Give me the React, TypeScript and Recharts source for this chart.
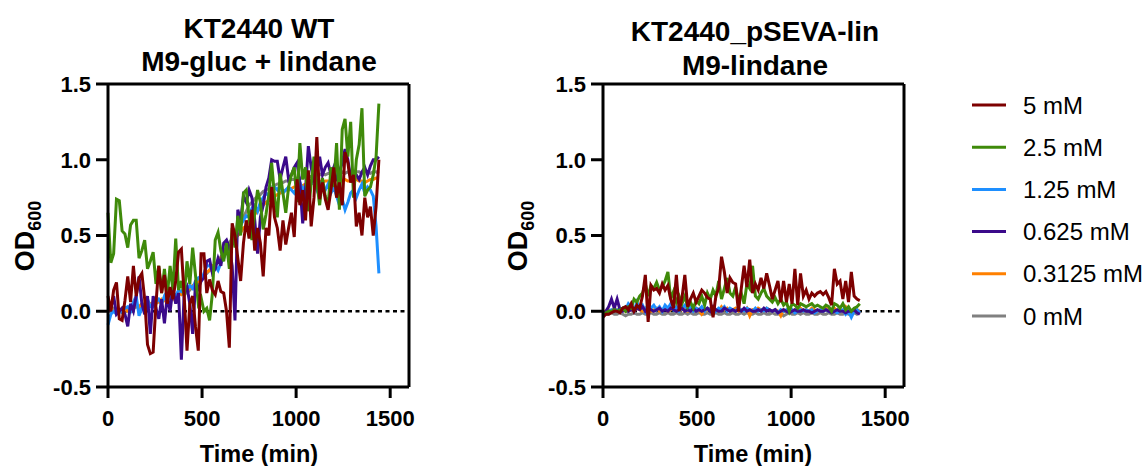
import { Line, LineChart, ReferenceLine, XAxis, YAxis } from "recharts";

// sampling times (min)
const leftTime = [
  0, 15, 30, 45, 60, 75, 90, 105, 120, 135,
  150, 165, 180, 195, 210, 225, 240, 255, 270, 285,
  300, 315, 330, 345, 360, 375, 390, 405, 420, 435,
  450, 465, 480, 495, 510, 525, 540, 555, 570, 585,
  600, 615, 630, 645, 660, 675, 690, 705, 720, 735,
  750, 765, 780, 795, 810, 825, 840, 855, 870, 885,
  900, 915, 930, 945, 960, 975, 990, 1005, 1020, 1035,
  1050, 1065, 1080, 1095, 1110, 1125, 1140, 1155, 1170, 1185,
  1200, 1215, 1230, 1245, 1260, 1275, 1290, 1305, 1320, 1335,
  1350, 1365, 1380, 1395, 1410, 1425, 1440,
];

const rightTime = [
  0, 15, 30, 45, 60, 75, 90, 105, 120, 135,
  150, 165, 180, 195, 210, 225, 240, 255, 270, 285,
  300, 315, 330, 345, 360, 375, 390, 405, 420, 435,
  450, 465, 480, 495, 510, 525, 540, 555, 570, 585,
  600, 615, 630, 645, 660, 675, 690, 705, 720, 735,
  750, 765, 780, 795, 810, 825, 840, 855, 870, 885,
  900, 915, 930, 945, 960, 975, 990, 1005, 1020, 1035,
  1050, 1065, 1080, 1095, 1110, 1125, 1140, 1155, 1170, 1185,
  1200, 1215, 1230, 1245, 1260, 1275, 1290, 1305, 1320, 1335,
  1350, 1365,
];

// KT2440 WT, M9-gluc + lindane
const leftMM5 = [
  0.1, 0.0, 0.14, 0.19, -0.05, -0.06, 0.07, 0.23, 0.06, 0.3,
  0.1, 0.22, 0.25, 0.08, -0.22, -0.28, -0.27, 0.05, 0.3, 0.12,
  0.24, 0.05, 0.16, 0.08, 0.2, 0.39, 0.41, 0.1, -0.26, 0.05,
  0.1, -0.1, -0.26, 0.38, 0.38, 0.12, 0.21, 0.14, 0.11, 0.2,
  0.13, 0.12, 0.0, -0.24, 0.58, 0.5, 0.35, 0.2, 0.45, 0.6,
  0.48, 0.67, 0.4, 0.55, 0.45, 0.23, 0.55, 0.5, 0.82, 0.62,
  0.55, 0.4, 0.6, 0.44, 0.55, 0.65, 0.49, 0.87, 0.7, 0.8,
  0.6, 0.93, 0.56, 0.75, 1.15, 0.74, 0.85, 0.74, 0.67, 0.8,
  0.95, 0.75, 0.85, 0.7, 1.05, 0.98, 0.85, 0.9, 0.56, 0.65,
  0.5, 0.75, 0.62, 0.69, 0.5, 0.69, 1.0,
];
const leftMM2_5 = [
  0.65, 0.32, 0.38, 0.74, 0.73, 0.53, 0.51, 0.42, 0.57, 0.6,
  0.6, 0.35, 0.4, 0.47, 0.28, 0.33, 0.39, 0.18, 0.3, 0.12,
  0.28, 0.1, 0.3, 0.14, 0.48, 0.14, 0.2, 0.1, 0.33, 0.18,
  0.42, 0.24, 0.05, 0.09, 0.0, 0.02, -0.06, 0.12, 0.47, 0.52,
  0.4, 0.33, 0.45, 0.28, 0.55, 0.42, 0.63, 0.5, 0.78, 0.8,
  0.62, 0.47, 0.65, 0.8, 0.72, 0.54, 0.64, 0.77, 0.98, 0.76,
  0.62, 0.91, 0.78, 0.65, 0.82, 0.9, 0.95, 0.72, 1.11, 0.87,
  0.95, 0.66, 0.84, 1.02, 0.85, 0.7, 0.88, 0.76, 0.69, 0.95,
  0.82, 1.11, 0.67, 1.2, 1.27, 1.02, 1.25, 0.75, 1.0, 1.1,
  1.34, 0.76, 0.8, 0.82, 0.9, 1.02, 1.37,
];
const leftMM1_25 = [
  -0.09, -0.02, 0.0, -0.02, 0.0, -0.01, 0.02, 0.03, 0.0, 0.06,
  0.1, -0.03, 0.02, 0.05, 0.08, 0.03, 0.03, 0.06, 0.08, 0.05,
  0.1, 0.06, 0.1, 0.12, 0.1, 0.14, 0.13, 0.15, 0.14, 0.17,
  0.15, 0.2, 0.22, 0.2, 0.25, 0.3, 0.3, 0.28, 0.3, 0.27,
  0.32, 0.35, 0.4, 0.43, 0.45, 0.5, 0.55, 0.57, 0.6, 0.63,
  0.62, 0.68, 0.7, 0.66, 0.72, 0.75, 0.78, 0.76, 0.8, 0.82,
  0.8, 0.83, 0.78, 0.8, 0.82, 0.8, 0.78, 0.82, 0.85, 0.8,
  0.83, 0.82, 0.86, 0.84, 0.8, 0.85, 0.82, 0.8, 0.84, 0.78,
  0.82, 0.76, 0.7, 0.74, 0.67, 0.72, 0.78, 0.8, 0.75, 0.8,
  0.84, 0.78, 0.82, 0.8, 0.76, 0.56, 0.25,
];
const leftMM0_625 = [
  0.0, 0.02, 0.1, -0.02, 0.0, 0.02, -0.02, -0.1, 0.05, 0.0,
  0.1, 0.23, 0.05, -0.02, 0.1, -0.15, 0.1, 0.02, -0.05, 0.08,
  -0.08, 0.1, 0.0, 0.15, 0.05, 0.12, -0.32, 0.12, 0.16, 0.05,
  -0.15, 0.18, 0.15, 0.2, 0.22, 0.33, 0.34, 0.25, 0.28, 0.35,
  0.3, 0.45, 0.47, 0.42, 0.3, -0.06, 0.67, 0.6, 0.76, 0.72,
  0.8, 0.75, 0.6, 0.38, 0.62, 0.7, 0.82, 0.88, 1.0, 0.99,
  0.99, 0.87, 0.95, 1.02, 0.87, 0.9, 0.95, 0.98, 0.85, 0.58,
  0.8, 1.09, 0.95, 0.85, 0.92, 1.02, 0.9, 0.95, 0.98, 0.9,
  0.95, 0.86, 0.92, 0.98, 1.07, 1.0, 0.88, 0.92, 0.9, 0.87,
  0.92, 0.95, 0.9, 0.96, 1.0, 1.0, 1.02,
];
const leftMM0_3125 = [
  0.03, 0.02, 0.0, 0.01, 0.0, 0.02, 0.01, 0.0, 0.03, 0.02,
  0.04, 0.03, 0.05, 0.04, 0.06, 0.05, 0.04, 0.07, 0.06, 0.08,
  0.07, 0.09, 0.1, 0.08, 0.11, 0.12, 0.11, 0.13, 0.14, 0.15,
  0.17, 0.18, 0.2, 0.22, 0.24, 0.26, 0.27, 0.3, 0.31, 0.33,
  0.35, 0.38, 0.4, 0.43, 0.46, 0.48, 0.5, 0.52, 0.55, 0.56,
  0.6, 0.62, 0.64, 0.66, 0.68, 0.7, 0.72, 0.73, 0.75, 0.76,
  0.77, 0.78, 0.79, 0.8, 0.8, 0.81, 0.82, 0.82, 0.83, 0.83,
  0.84, 0.84, 0.85, 0.84, 0.85, 0.86, 0.85, 0.86, 0.86, 0.85,
  0.86, 0.87, 0.86, 0.86, 0.87, 0.86, 0.86, 0.87, 0.87, 0.86,
  0.86, 0.85, 0.86, 0.87, 0.87, 0.88, 0.88,
];
const leftMM0 = [
  0.0, 0.01, 0.02, 0.0, 0.01, 0.0, 0.02, 0.01, 0.0, 0.02,
  0.03, 0.02, 0.04, 0.03, 0.05, 0.04, 0.06, 0.05, 0.07, 0.06,
  0.08, 0.07, 0.09, 0.1, 0.09, 0.11, 0.12, 0.13, 0.12, 0.14,
  0.16, 0.17, 0.19, 0.21, 0.23, 0.25, 0.27, 0.29, 0.31, 0.33,
  0.36, 0.39, 0.42, 0.45, 0.48, 0.52, 0.55, 0.58, 0.62, 0.66,
  0.7, 0.72, 0.74, 0.76, 0.77, 0.79, 0.8, 0.81, 0.82, 0.83,
  0.84, 0.84, 0.85, 0.86, 0.86, 0.87, 0.87, 0.88, 0.88, 0.88,
  0.89, 0.89, 0.89, 0.9, 0.9, 0.9, 0.91, 0.9, 0.91, 0.91,
  0.9, 0.91, 0.91, 0.92, 0.91, 0.92, 0.92, 0.91, 0.92, 0.92,
  0.91, 0.92, 0.92, 0.91, 0.92, 0.92, 0.91,
];

// KT2440_pSEVA-lin, M9-lindane
const rightMM5 = [
  -0.04, -0.02, -0.02, -0.01, 0.0, 0.0, -0.01, 0.02, 0.03, 0.01,
  0.05, 0.0, 0.04, 0.02, 0.1, 0.24, -0.07, 0.17, 0.14, 0.15,
  0.12, 0.18, 0.14, 0.17, 0.08, 0.02, 0.24, 0.0, 0.09, 0.24,
  0.03, 0.08, 0.12, 0.06, 0.1, 0.14, 0.12, 0.09, 0.08, -0.04,
  0.1, 0.15, 0.36, 0.26, 0.12, 0.22, 0.19, 0.18, 0.0, 0.15,
  0.3, 0.16, 0.34, 0.12, 0.18, 0.14, 0.22, 0.15, 0.25, 0.17,
  0.08, 0.14, 0.2, 0.06, 0.2, 0.06, 0.18, 0.05, 0.28, 0.04,
  0.25, 0.1, 0.14, 0.08, 0.12, 0.1, 0.12, 0.13, 0.11, 0.13,
  0.09, 0.04, 0.28, 0.18, 0.2, 0.08, 0.2, 0.06, 0.26, 0.1,
  0.08, 0.07,
];
const rightMM2_5 = [
  -0.02, -0.01, 0.0, 0.0, 0.01, 0.0, 0.01, 0.02, 0.0, 0.03,
  0.02, 0.08, 0.06, 0.1, 0.12, 0.18, 0.1, 0.17, 0.15, 0.19,
  0.14, 0.16, 0.2, 0.26, 0.08, 0.13, 0.06, 0.1, 0.05, 0.1,
  0.03, 0.06, 0.02, 0.07, 0.05, 0.1, 0.04, 0.12, 0.08, 0.14,
  0.1, 0.2, 0.08, 0.15, 0.22, 0.12, 0.1, 0.16, 0.07, 0.12,
  0.05, 0.18, 0.15, 0.3, 0.1, 0.08, 0.12, 0.15, 0.1, 0.08,
  0.06, 0.09, 0.05, 0.08, 0.04, 0.06, 0.0, 0.05, 0.04, 0.02,
  0.05, 0.04, 0.03, 0.04, 0.05, 0.03, 0.04, 0.03, 0.02, 0.04,
  0.03, 0.0, 0.05, 0.04, 0.02, 0.05, 0.01, 0.03, 0.0, 0.02,
  0.03, 0.05,
];
const rightMM1_25 = [
  -0.03, -0.01, 0.0, 0.01, 0.0, 0.01, 0.0, 0.02, 0.01, 0.05,
  0.03, 0.0, 0.06, 0.02, 0.04, 0.0, 0.05, 0.02, 0.04, 0.01,
  0.03, 0.0, 0.04, 0.02, 0.05, 0.01, 0.03, 0.0, 0.02, 0.04,
  0.01, 0.03, 0.0, 0.02, 0.01, 0.03, 0.0, 0.02, 0.01, 0.03,
  0.0, 0.02, 0.01, 0.03, 0.0, 0.02, 0.01, 0.0, 0.02, 0.01,
  0.0, 0.02, 0.01, 0.0, 0.02, 0.0, 0.01, 0.0, 0.02, 0.01,
  0.0, 0.01, -0.01, 0.01, 0.0, 0.01, 0.0, 0.01, -0.01, 0.0,
  0.01, 0.0, 0.01, 0.0, 0.01, -0.01, 0.0, 0.01, 0.0, 0.01,
  0.0, 0.01, 0.0, -0.01, 0.0, 0.01, -0.02, 0.0, -0.04, 0.0,
  0.01, -0.01,
];
const rightMM0_625 = [
  -0.02, 0.0, 0.03, 0.08, 0.02, 0.08, 0.01, 0.0, 0.01, 0.0,
  0.01, 0.0, 0.02, 0.01, 0.03, 0.0, 0.02, 0.01, 0.0, 0.01,
  0.02, 0.0, 0.01, 0.0, 0.02, 0.01, 0.0, 0.01, 0.02, 0.0,
  0.01, 0.0, 0.02, 0.0, 0.01, 0.0, 0.01, 0.02, 0.0, 0.03,
  0.01, 0.0, 0.0, 0.02, 0.01, 0.0, 0.01, 0.0, 0.01, 0.0,
  0.02, 0.0, 0.01, 0.0, 0.0, 0.01, 0.0, 0.02, 0.0, 0.01,
  0.0, 0.01, -0.01, 0.0, 0.01, 0.0, -0.01, 0.0, 0.01, 0.0,
  0.0, 0.01, 0.0, 0.0, -0.01, 0.0, 0.01, 0.0, 0.0, 0.01,
  0.0, -0.01, 0.0, 0.01, 0.0, 0.0, -0.01, 0.0, 0.0, 0.01,
  -0.01, -0.02,
];
const rightMM0_3125 = [
  0.0, 0.0, 0.01, 0.0, 0.02, 0.01, 0.0, 0.01, 0.0, 0.02,
  0.01, 0.0, 0.02, 0.01, 0.0, 0.02, 0.01, 0.0, 0.01, 0.02,
  0.0, 0.01, 0.02, 0.0, 0.01, 0.03, 0.02, 0.0, 0.01, 0.02,
  0.0, 0.01, 0.0, 0.02, 0.01, -0.02, 0.0, 0.01, 0.02, 0.03,
  0.01, 0.0, 0.03, 0.01, 0.02, 0.0, 0.01, 0.02, 0.0, 0.01,
  0.0, 0.02, -0.03, 0.01, 0.0, 0.02, 0.01, 0.0, 0.02, 0.01,
  0.0, 0.01, 0.0, -0.03, 0.01, 0.0, 0.02, 0.0, 0.01, 0.0,
  0.02, 0.0, 0.01, 0.0, 0.02, 0.01, 0.0, 0.01, 0.0, 0.02,
  0.01, 0.0, 0.02, 0.0, 0.01, 0.0, 0.03, 0.01, 0.0, 0.01,
  0.0, 0.01,
];
const rightMM0 = [
  -0.03, -0.02, -0.02, -0.01, -0.02, -0.02, -0.01, -0.02, -0.03, -0.02,
  -0.02, -0.01, -0.02, -0.02, -0.01, -0.02, -0.02, -0.01, -0.02, -0.02,
  -0.01, -0.02, -0.02, -0.01, -0.02, -0.02, -0.01, -0.02, -0.02, -0.01,
  -0.02, -0.01, -0.02, -0.02, -0.01, -0.02, -0.02, -0.01, -0.02, -0.02,
  -0.01, -0.02, -0.02, -0.01, -0.02, -0.02, -0.01, -0.02, -0.02, -0.01,
  -0.02, -0.01, -0.02, -0.02, -0.01, -0.02, -0.02, -0.01, -0.02, -0.02,
  -0.01, -0.02, -0.02, -0.01, -0.03, -0.02, -0.01, -0.02, -0.02, -0.01,
  -0.02, -0.01, -0.02, -0.02, -0.01, -0.02, -0.02, -0.01, -0.02, -0.02,
  -0.01, -0.02, -0.02, -0.01, -0.02, -0.02, -0.01, -0.02, -0.02, -0.01,
  -0.02, -0.01,
];

const seriesKeys = ["c5", "c2_5", "c1_25", "c0_625", "c0_3125", "c0"];
const seriesNames = ["5 mM", "2.5 mM", "1.25 mM", "0.625 mM", "0.3125 mM", "0 mM"];
const seriesColors = ["#7d0000", "#3f8a0a", "#1e8fff", "#3b0a8a", "#ff8000", "#808080"];
// drawn back to front: 0 mM first, 5 mM on top
const drawOrder = [5, 4, 2, 3, 1, 0];

const xTicks = [0, 500, 1000, 1500];
const yTicks = [-0.5, 0, 0.5, 1, 1.5];

const FONT = '"Liberation Sans", Arial, Helvetica, sans-serif';

function buildRows(time: number[], series: number[][]) {
  return time.map((t, i) => {
    const row: Record<string, number> = { t };
    seriesKeys.forEach((k, s) => {
      row[k] = series[s][i];
    });
    return row;
  });
}

const leftRows = buildRows(leftTime, [leftMM5, leftMM2_5, leftMM1_25, leftMM0_625, leftMM0_3125, leftMM0]);
const rightRows = buildRows(rightTime, [rightMM5, rightMM2_5, rightMM1_25, rightMM0_625, rightMM0_3125, rightMM0]);

const axisStroke = { stroke: "#000", strokeWidth: 3 };
const tickStyle = { fill: "#000", fontSize: 22, fontWeight: 700, fontFamily: FONT };

function Panel({ rows, left }: { rows: Record<string, number>[]; left: number }) {
  return (
    <div style={{ position: "absolute", left, top: 0 }}>
      <LineChart width={430} height={466} data={rows} margin={{ top: 84, right: 21, bottom: 0, left: 0 }}>
        <XAxis
          dataKey="t"
          type="number"
          domain={[0, 1600]}
          ticks={xTicks}
          height={79}
          tickSize={11}
          tickMargin={12}
          axisLine={axisStroke}
          tickLine={axisStroke}
          tick={tickStyle}
        />
        <YAxis
          type="number"
          domain={[-0.5, 1.5]}
          ticks={yTicks}
          width={108}
          tickSize={12}
          tickMargin={5}
          tickFormatter={(v: number) => v.toFixed(1)}
          axisLine={axisStroke}
          tickLine={axisStroke}
          tick={tickStyle}
        />
        <ReferenceLine y={0} stroke="#000" strokeWidth={2.5} strokeDasharray="4 3.5" />
        <ReferenceLine y={1.5} stroke="#000" strokeWidth={3} />
        <ReferenceLine x={1600} stroke="#000" strokeWidth={3} />
        {drawOrder.map((s) => (
          <Line
            key={seriesKeys[s]}
            type="linear"
            dataKey={seriesKeys[s]}
            name={seriesNames[s]}
            stroke={seriesColors[s]}
            strokeWidth={3}
            dot={false}
            isAnimationActive={false}
          />
        ))}
      </LineChart>
    </div>
  );
}

function YLabel({ x }: { x: number }) {
  return (
    <text
      x={x}
      y={236}
      transform={`rotate(-90 ${x} 236)`}
      textAnchor="middle"
      fontSize={27}
      fontWeight={700}
    >
      OD
      <tspan fontSize={18} dy={7}>
        600
      </tspan>
    </text>
  );
}

export default function App() {
  return (
    <div
      style={{
        position: "absolute",
        left: 0,
        top: 0,
        width: 1146,
        height: 466,
        background: "#fff",
        overflow: "hidden",
      }}
    >
      <Panel rows={leftRows} left={0} />
      <Panel rows={rightRows} left={495} />
      <svg
        width={1146}
        height={466}
        style={{ position: "absolute", left: 0, top: 0, pointerEvents: "none" }}
        fontFamily={FONT}
        fill="#000"
      >
        <text x={259} y={38} textAnchor="middle" fontSize={28} fontWeight={700}>
          KT2440 WT
        </text>
        <text x={259} y={71} textAnchor="middle" fontSize={28} fontWeight={700}>
          M9-gluc + lindane
        </text>
        <text x={755} y={41} textAnchor="middle" fontSize={28} fontWeight={700}>
          KT2440_pSEVA-lin
        </text>
        <text x={755} y={75} textAnchor="middle" fontSize={28} fontWeight={700}>
          M9-lindane
        </text>
        <YLabel x={34} />
        <YLabel x={527} />
        <text x={259} y={462} textAnchor="middle" fontSize={23.5} fontWeight={700}>
          Time (min)
        </text>
        <text x={753} y={462} textAnchor="middle" fontSize={23.5} fontWeight={700}>
          Time (min)
        </text>
        {seriesNames.map((name, i) => {
          const y = 105 + i * 42.2;
          return (
            <g key={name}>
              <line x1={972} x2={1006} y1={y} y2={y} stroke={seriesColors[i]} strokeWidth={3} />
              <text x={1023} y={y + 8.5} fontSize={24}>
                {name}
              </text>
            </g>
          );
        })}
      </svg>
    </div>
  );
}
